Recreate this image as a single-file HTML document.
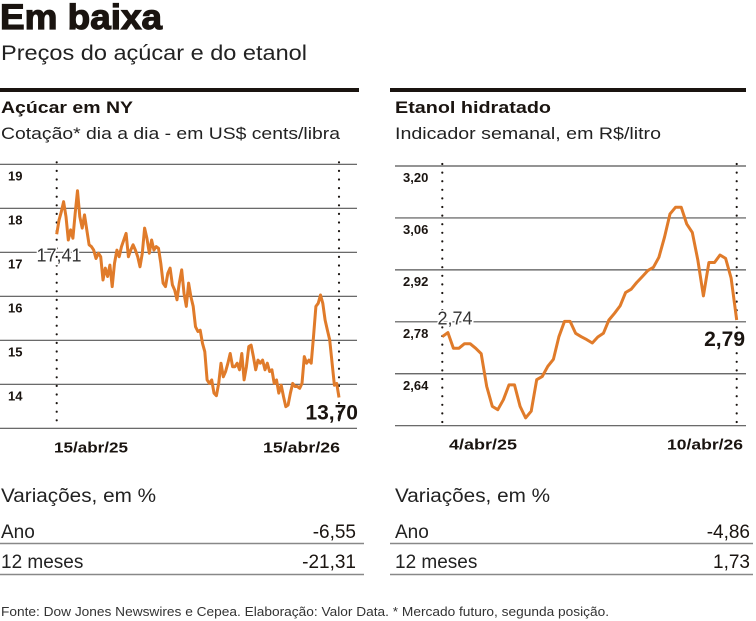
<!DOCTYPE html>
<html><head><meta charset="utf-8"><style>
html,body{margin:0;padding:0;background:#fff;}
svg{display:block;font-family:"Liberation Sans",sans-serif;}
</style></head><body>
<svg id="c" width="756" height="621" viewBox="0 0 756 621">
<text x="0" y="29" font-size="35" font-weight="bold" fill="#1a1410" stroke="#1a1410" stroke-width="1.2" textLength="162" lengthAdjust="spacingAndGlyphs">Em baixa</text>
<text x="1" y="60" font-size="21" fill="#222" textLength="306" lengthAdjust="spacingAndGlyphs">Preços do açúcar e do etanol</text>
<rect x="0" y="88" width="359" height="4" fill="#1a1410"/>
<rect x="390" y="88" width="356" height="4" fill="#1a1410"/>
<text x="1" y="113" font-size="17" font-weight="bold" fill="#1a1410" textLength="132" lengthAdjust="spacingAndGlyphs">Açúcar em NY</text>
<text x="1" y="139" font-size="17" fill="#222" textLength="339" lengthAdjust="spacingAndGlyphs">Cotação* dia a dia - em US$ cents/libra</text>
<text x="395" y="113" font-size="17" font-weight="bold" fill="#1a1410" textLength="156" lengthAdjust="spacingAndGlyphs">Etanol hidratado</text>
<text x="395" y="139" font-size="17" fill="#222" textLength="266" lengthAdjust="spacingAndGlyphs">Indicador semanal, em R$/litro</text>
<g id="g1"></g><g id="g2"></g>
<g>
<text x="1" y="502" font-size="19" fill="#222" textLength="155" lengthAdjust="spacingAndGlyphs">Variações, em %</text>
<text x="1" y="538" font-size="19" fill="#222">Ano</text>
<text x="356" y="538" font-size="19" fill="#1a1410" text-anchor="end">-6,55</text>
<line x1="0" y1="543.5" x2="364" y2="543.5" stroke="#888" stroke-width="1.5"/>
<text x="1" y="568" font-size="19" fill="#222">12 meses</text>
<text x="356" y="568" font-size="19" fill="#1a1410" text-anchor="end">-21,31</text>
<line x1="0" y1="574.5" x2="364" y2="574.5" stroke="#888" stroke-width="1.5"/>
</g>
<g>
<text x="395" y="502" font-size="19" fill="#222" textLength="155" lengthAdjust="spacingAndGlyphs">Variações, em %</text>
<text x="395" y="538" font-size="19" fill="#222">Ano</text>
<text x="750" y="538" font-size="19" fill="#1a1410" text-anchor="end">-4,86</text>
<line x1="390" y1="543.5" x2="753" y2="543.5" stroke="#888" stroke-width="1.5"/>
<text x="395" y="568" font-size="19" fill="#222">12 meses</text>
<text x="750" y="568" font-size="19" fill="#1a1410" text-anchor="end">1,73</text>
<line x1="390" y1="574.5" x2="753" y2="574.5" stroke="#888" stroke-width="1.5"/>
</g>
<text x="1" y="616" font-size="13" fill="#333" textLength="608" lengthAdjust="spacingAndGlyphs">Fonte: Dow Jones Newswires e Cepea. Elaboração: Valor Data. * Mercado futuro, segunda posição.</text>
</svg>
<script>
const sugarTicks=[19,18,17,16,15,14,13];
const sugarTickLabels=["19","18","17","16","15","14",""];
const sugarDates=["15/abr/25","15/abr/26"];
const sugarValues=[17.41,17.73,17.92,18.15,17.81,17.28,17.51,17.32,17.89,18.40,17.81,17.55,17.85,17.51,17.17,17.13,17.05,16.86,16.98,16.90,16.37,16.64,16.45,16.71,16.22,16.75,17.05,16.90,17.13,17.28,17.43,16.90,17.05,17.17,17.05,16.90,16.67,16.98,17.55,17.32,16.98,17.28,17.05,17.13,17.09,16.75,16.30,16.22,16.52,16.64,16.26,16.14,15.92,16.30,16.60,16.07,15.77,16.30,15.99,15.77,15.31,15.20,15.23,14.93,14.74,14.10,14.02,14.10,13.80,13.74,14.02,14.48,14.17,14.29,14.48,14.70,14.40,14.40,14.48,14.33,14.70,14.10,14.40,14.86,14.89,14.63,14.33,14.55,14.48,14.55,14.33,14.48,14.29,14.33,14.02,14.10,13.80,13.98,13.72,13.49,13.53,13.80,14.02,13.95,13.95,13.91,14.02,14.63,14.48,14.55,14.48,15.08,15.77,15.84,16.03,15.84,15.46,15.23,15.01,14.48,13.98,14.02,13.70];
const ethTicks=[3.20,3.06,2.92,2.78,2.64,2.50];
const ethTickLabels=["3,20","3,06","2,92","2,78","2,64",""];
const ethDates=["4/abr/25","10/abr/26"];
const ethValues=[2.74,2.751,2.709,2.709,2.721,2.721,2.709,2.694,2.606,2.552,2.543,2.570,2.610,2.610,2.552,2.521,2.539,2.624,2.633,2.660,2.679,2.740,2.781,2.781,2.749,2.740,2.732,2.723,2.739,2.749,2.785,2.803,2.823,2.859,2.868,2.886,2.902,2.918,2.927,2.954,3.008,3.071,3.089,3.089,3.044,3.021,2.947,2.850,2.940,2.940,2.960,2.951,2.898,2.785];
const NS="http://www.w3.org/2000/svg";
function mk(parent,tag,attrs,txt){const e=document.createElementNS(NS,tag);for(const k in attrs)e.setAttribute(k,attrs[k]);if(txt!==undefined)e.textContent=txt;parent.appendChild(e);return e;}
function draw(gid,o){
  const g=document.getElementById(gid);
  const y=v=>o.y0+(o.vTop-v)/(o.vTop-o.vBot)*(o.y1-o.y0);
  const x=i=>o.xa+i/(o.vals.length-1)*(o.xb-o.xa);
  o.ticks.forEach((t,i)=>{
    const ln=mk(g,'line',{x1:o.gx0,x2:o.gx1,y1:y(t),y2:y(t),stroke:'#555','stroke-width':1.2});
    
    
    if(o.labels[i]){const tx=mk(g,'text',{x:o.gx0+8,y:y(t)+16,'font-size':13,'font-weight':'bold',fill:'#1a1410'},o.labels[i]);
    
    }
  });
  [o.xa,o.xb].forEach((xx,i)=>{
    const d=mk(g,'line',{x1:xx,x2:xx,y1:o.y0-2,y2:o.y1-2,stroke:'#1a1410','stroke-width':2.2,'stroke-dasharray':'0 8.6','stroke-linecap':'round'});
    
    
    const t=mk(g,'text',{x:o.dx[i],y:o.y1+24,'font-size':15,'font-weight':'bold',fill:'#1a1410',textLength:o.dw[i],lengthAdjust:'spacingAndGlyphs'},o.dates[i]);
    
    
  });
  const pts=o.vals.map((v,i)=>x(i).toFixed(1)+','+y(v).toFixed(1)).join(' ');
  const pl=mk(g,'polyline',{points:pts,fill:'none',stroke:'#e07b2a','stroke-width':o.sw,'stroke-linejoin':'round'});
  
  
  const a=mk(g,'text',{x:o.sx,y:y(o.vals[0])+o.sdy,'font-size':18,fill:'#333','text-anchor':'middle',style:'paint-order:stroke',stroke:'#fff','stroke-width':3},o.vals[0].toFixed(2).replace('.',','));
  
  
  const last=o.vals[o.vals.length-1];
  const b=mk(g,'text',{x:o.ex,y:y(last)+o.edy,'font-size':21,'font-weight':'bold',fill:'#1a1410','text-anchor':'end'},last.toFixed(2).replace('.',','));
  
  
}
draw('g1',{p:'sugar',vals:sugarValues,ticks:sugarTicks,labels:sugarTickLabels,dates:sugarDates,vTop:19,vBot:13,y0:164.3,y1:428.3,xa:56.7,xb:339,gx0:0,gx1:357,dx:[54,263],dw:[74,77],sw:3,sx:59,sdy:27,ex:358,edy:22});
draw('g2',{p:'ethanol',vals:ethValues,ticks:ethTicks,labels:ethTickLabels,dates:ethDates,vTop:3.20,vBot:2.50,y0:166,y1:425.7,xa:442.3,xb:736.7,gx0:395,gx1:746,dx:[449,667],dw:[68,76],sw:3,sx:455,sdy:-12,ex:745,edy:26});
</script>
</body></html>
